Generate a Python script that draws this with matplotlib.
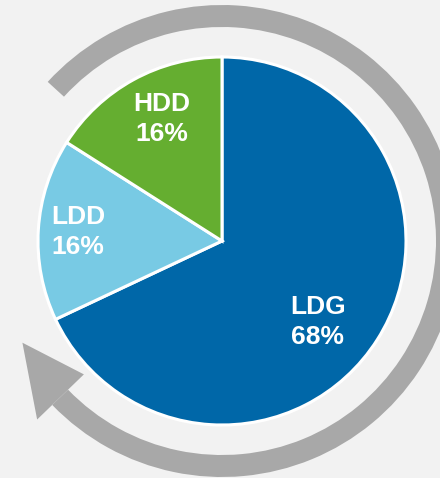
import numpy as np
import matplotlib
matplotlib.use("Agg")
import matplotlib.pyplot as plt
from matplotlib.patches import Wedge, Polygon

categories = ["LDG", "LDD", "HDD"]
shares = [68, 16, 16]
colors = ["#0067a8", "#78cae4", "#65ae30"]
label_pos = [(318, 478 - 322), (78, 478 - 232), (162, 478 - 119)]

W, H = 440, 478
fig = plt.figure(figsize=(W / 100, H / 100), dpi=100, facecolor="#f2f2f2")
ax = fig.add_axes([0, 0, 1, 1])
ax.set_facecolor("#f2f2f2")

cx, cy = 222, 237
R = 184
arc_col = "#a8a8a8"

# circular arrow
ax.add_patch(Wedge((cx, cy), 236, -136, 137.6, width=22, facecolor=arc_col, edgecolor="none"))
def pt(r, a):
    t = np.deg2rad(a)
    return (cx + r * np.cos(t), cy + r * np.sin(t))
ax.add_patch(Polygon([pt(224, -153), pt(257, -136), pt(192, -136)], closed=True,
                     facecolor=arc_col, edgecolor="none"))

ax.pie(shares, colors=colors, startangle=90, counterclock=False, center=(cx, cy), radius=R,
       wedgeprops=dict(edgecolor="white", linewidth=2.2), frame=True)

for cat, val, (x, y) in zip(categories, shares, label_pos):
    ax.text(x, y, f"{cat}\n{val}%", ha="center", va="center", color="white",
            fontsize=19, fontweight="bold", family=["Liberation Sans", "DejaVu Sans"],
            linespacing=1.28)

ax.set_xlim(0, W)
ax.set_ylim(0, H)
ax.set_aspect("equal")
ax.axis("off")
fig.savefig("out.png", dpi=100, facecolor="#f2f2f2")
